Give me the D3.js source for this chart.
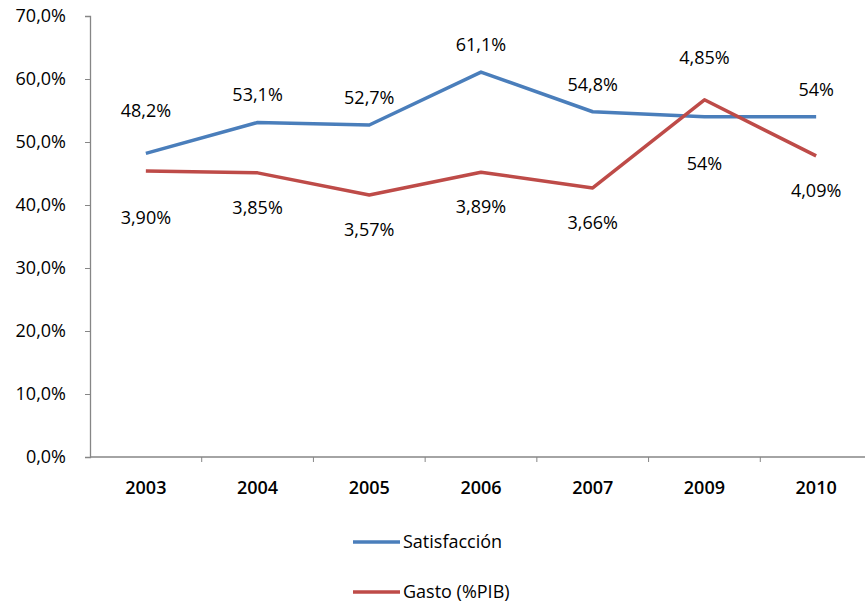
<!DOCTYPE html>
<html>
<head>
<meta charset="utf-8">
<script src="https://d3js.org/d3.v7.min.js"></script>
<style>
  body { margin: 0; background: #fff; }
  text { font-family: "Open Sans", "Liberation Sans", sans-serif; fill: #000; }
</style>
</head>
<body>
<svg id="chart" width="865" height="603"></svg>
<script>
// data
var years = ["2003", "2004", "2005", "2006", "2007", "2009", "2010"];
var satisfaccion = [48.2, 53.1, 52.7, 61.1, 54.8, 54.0, 54.0];
var satisfaccionLabels = ["48,2%", "53,1%", "52,7%", "61,1%", "54,8%", "54%", "54%"];
// gasto is drawn on the same 0-70 axis as in the original (plotted heights)
var gastoPlotted = [45.4, 45.1, 41.6, 45.2, 42.7, 56.7, 47.8];
var gastoLabels = ["3,90%", "3,85%", "3,57%", "3,89%", "3,66%", "4,85%", "4,09%"];
var yTicks = [0, 10, 20, 30, 40, 50, 60, 70];
var yTickLabels = ["0,0%", "10,0%", "20,0%", "30,0%", "40,0%", "50,0%", "60,0%", "70,0%"];

var series = [
  { name: "Satisfacción", values: satisfaccion, labels: satisfaccionLabels, color: "#4a7ebb" },
  { name: "Gasto (%PIB)", values: gastoPlotted, labels: gastoLabels, color: "#be4b48" }
];

var svg = d3.select("#chart");
var axisColor = "#868686";
var fs = "18px";

var x = d3.scaleBand().domain(years).range([90, 872]);
var y = d3.scaleLinear().domain([0, 70]).range([457, 16]);

// y axis
var yAxis = d3.axisLeft(y)
  .tickValues(yTicks)
  .tickSize(5)
  .tickFormat(function (d, i) { return yTickLabels[i]; });
var gy = svg.append("g").attr("transform", "translate(90,0)").call(yAxis);
gy.select(".domain").attr("stroke", axisColor).attr("stroke-width", 1.3);
gy.selectAll(".tick line").attr("stroke", axisColor);
gy.selectAll(".tick text")
  .attr("x", -24)
  .style("font-size", fs)
  .style("font-family", "'Open Sans', sans-serif")
  .attr("fill", "#000");

// x axis (ticks at band boundaries)
var gx = svg.append("g").attr("transform", "translate(0,457)");
gx.append("line")
  .attr("x1", x.range()[0]).attr("x2", x.range()[1])
  .attr("stroke", axisColor).attr("stroke-width", 1.3);
gx.selectAll(".xt")
  .data(years.slice(1))
  .enter().append("line")
  .attr("x1", function (d) { return x(d); })
  .attr("x2", function (d) { return x(d); })
  .attr("y1", 0).attr("y2", 5)
  .attr("stroke", axisColor);
gx.selectAll(".xl")
  .data(years)
  .enter().append("text")
  .attr("x", function (d) { return x(d) + x.bandwidth() / 2; })
  .attr("y", 37)
  .attr("text-anchor", "middle")
  .style("font-size", fs)
  .style("font-weight", "600")
  .text(function (d) { return d; });

// lines
var line = d3.line()
  .x(function (d, i) { return x(years[i]) + x.bandwidth() / 2; })
  .y(function (d) { return y(d); });

series.forEach(function (s) {
  svg.append("path")
    .datum(s.values)
    .attr("fill", "none")
    .attr("stroke", s.color)
    .attr("stroke-width", 3.5)
    .attr("stroke-linejoin", "round")
    .attr("d", line);
});

// data labels: upper series label above, lower series label below
years.forEach(function (yr, i) {
  var a = satisfaccion[i], b = gastoPlotted[i];
  var upper = a >= b ? series[0] : series[1];
  var lower = a >= b ? series[1] : series[0];
  var cx = x(yr) + x.bandwidth() / 2;
  var close = Math.abs(y(a) - y(b)) < 25;
  svg.append("text")
    .attr("x", cx)
    .attr("y", y(upper.values[i]) - (close ? 36 : 21))
    .attr("text-anchor", "middle")
    .style("font-size", fs)
    .text(upper.labels[i]);
  svg.append("text")
    .attr("x", cx)
    .attr("y", y(lower.values[i]) + (close ? 53 : 41))
    .attr("text-anchor", "middle")
    .style("font-size", fs)
    .text(lower.labels[i]);
});

// legend
var legend = svg.append("g").attr("transform", "translate(353,542)");
series.forEach(function (s, i) {
  var g = legend.append("g").attr("transform", "translate(0," + (i * 50) + ")");
  g.append("line")
    .attr("x1", 0).attr("x2", 47)
    .attr("stroke", s.color).attr("stroke-width", 3.5);
  g.append("text")
    .attr("x", 50).attr("y", 6)
    .style("font-size", fs)
    .text(s.name);
});
</script>
</body>
</html>
